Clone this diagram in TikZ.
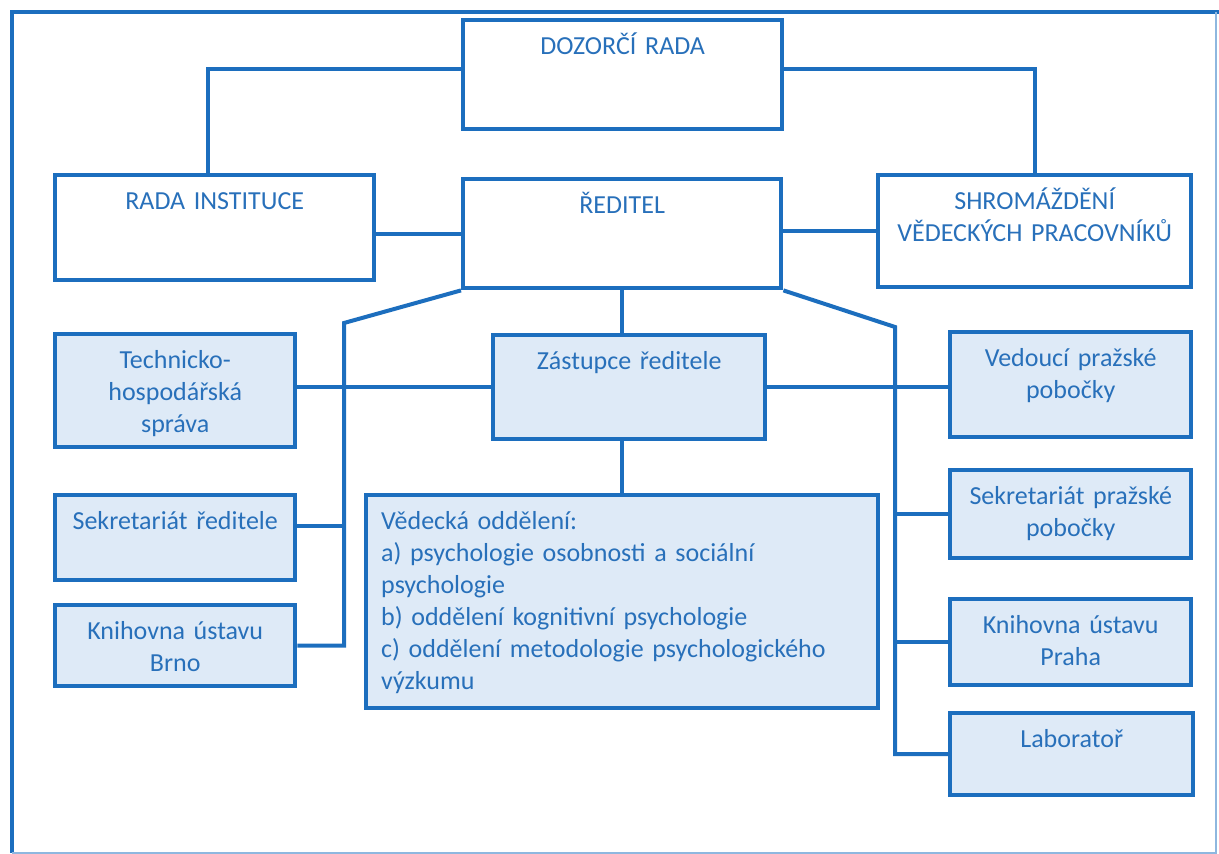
\documentclass[tikz,border=0pt]{standalone}
\usepackage{fontspec}
\setmainfont{Carlito}
\usetikzlibrary{calc,positioning}
\definecolor{orgline}{RGB}{28,110,190}
\definecolor{orgfill}{RGB}{222,234,247}
\definecolor{orgtext}{RGB}{40,112,186}
\tikzset{
  orgbox/.style={draw=orgline, line width=2.2pt, anchor=north west, inner sep=0pt,
    align=center, text=orgtext, text height=17pt,
    font=\fontsize{13}{16}\selectfont},   % box with text near its top
  subbox/.style={orgbox, fill=orgfill},
  link/.style={draw=orgline, line width=2pt}
}
\begin{document}
\begin{tikzpicture}[x=0.5pt,y=-0.5pt]
  \useasboundingbox (0,0) rectangle (1219,854);
  % outer frame
  \draw[orgline, line width=2.2pt] (12,853) -- (12,12) -- (1219,12);
  \draw[orgline!50, line width=0.8pt] (1216,12) -- (1216,853) -- (12,853);

  % top level
  \node[orgbox, text width=159.5pt, text depth=37.5pt] (dozor) at (461,18) {DOZORČÍ RADA};
  \node[orgbox, text width=159.5pt, text depth=35.5pt] (rada) at (53,173) {RADA INSTITUCE};
  \node[orgbox, text width=159pt, text depth=37.5pt] (redit) at (461,177) {ŘEDITEL};
  \node[orgbox, text width=156.5pt, text depth=39pt] (shrom) at (876,173) {SHROMÁŽDĚNÍ\\VĚDECKÝCH PRACOVNÍKŮ};

  % left column
  \node[subbox, text width=120pt, text depth=39.5pt] (tech) at (53,332) {Technicko-\\hospodářská\\správa};
  \node[subbox, text width=120pt, text depth=25.5pt] (sekr) at (53,493) {Sekretariát ředitele};
  \node[subbox, text width=120pt, text depth=23.5pt] (knihb) at (53,603) {Knihovna ústavu\\Brno};

  % middle
  \node[subbox, text width=136pt, text depth=35pt] (zast) at (491,333) {Zástupce ředitele};
  \node[subbox, align=left, inner xsep=7.5pt, text width=241pt, text depth=89.5pt] (ved) at (364,493)
    {Vědecká oddělení:\\a) psychologie osobnosti a sociální\\psychologie\\b) oddělení kognitivní psychologie\\c) oddělení metodologie psychologického\\výzkumu};

  % right column
  \node[subbox, text width=120.5pt, text depth=35.5pt] (vedo) at (948,330) {Vedoucí pražské\\pobočky};
  \node[subbox, text width=120.5pt, text depth=27pt] (sekp) at (948,468) {Sekretariát pražské\\pobočky};
  \node[subbox, text width=120.5pt, text depth=26pt] (knihp) at (948,597) {Knihovna ústavu\\Praha};
  \node[subbox, text width=121.5pt, text depth=24pt] (lab) at (948,711) {Laboratoř};

  \coordinate (lbend) at (344,323);
  \coordinate (rbend) at (895,327);

  % connectors
  \draw[link] ([yshift=3pt]dozor.west) -| ([xshift=-3.5pt]rada.north);
  \draw[link] ([yshift=3pt]dozor.east) -| (shrom.north);
  \draw[link] (rada.east |- redit.west) -- (redit.west);
  \draw[link] (redit.east |- shrom.west) -- (shrom.west);
  \draw[link] (redit.south) -- (redit.south |- zast.north);
  \draw[link] (zast.south -| ved.north) -- (ved.north);
  \draw[link] (tech.east |- zast.west) -- (zast.west);
  \draw[link] (zast.east) -- (zast.east -| vedo.west);
  \draw[link] (redit.south west) -- (lbend) |- (knihb.east);
  \draw[link] ([yshift=6pt]sekr.east) -- ([yshift=6pt]sekr.east -| lbend);
  \draw[link] (redit.south east) -- (rbend) |- (lab.west);
  \draw[link] (rbend |- sekp.west) -- (sekp.west);
  \draw[link] (rbend |- knihp.west) -- (knihp.west);
\end{tikzpicture}
\end{document}
